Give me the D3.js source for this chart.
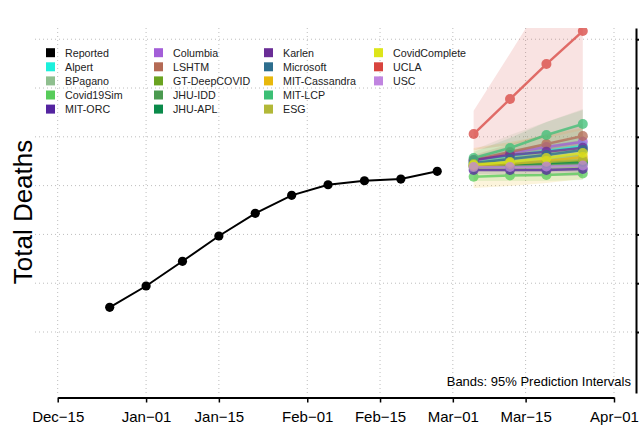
<!DOCTYPE html>
<html>
<head>
<meta charset="utf-8">
<script src="https://cdn.jsdelivr.net/npm/d3@7"></script>
<style>
  body { margin: 0; background: #fff; }
  text { font-family: "Liberation Sans", Arial, Helvetica, sans-serif; }
</style>
</head>
<body>
<div id="chart"></div>
<script>
// reported weekly totals
const reportedDates = ["2020-12-25", "2021-01-01", "2021-01-08", "2021-01-15", "2021-01-22",
                       "2021-01-29", "2021-02-05", "2021-02-12", "2021-02-19", "2021-02-26"];
const reportedDeaths = [5506, 5943, 6449, 6967, 7432, 7801, 8018, 8100, 8135, 8293];

const forecastDates = ["2021-03-05", "2021-03-12", "2021-03-19", "2021-03-26"];

const models = ["Alpert", "BPagano", "Covid19Sim", "MIT-ORC", "Columbia", "LSHTM", "GT-DeepCOVID",
                "JHU-IDD", "JHU-APL", "Karlen", "Microsoft", "MIT-Cassandra", "MIT-LCP", "ESG",
                "CovidComplete", "UCLA", "USC"];
const modelColors = ["#1cf0dc", "#8fbf8f", "#57cc5a", "#5424a0", "#a35ed8", "#b46a55", "#6aa320",
                     "#4b9a50", "#0a8a4a", "#6a2d96", "#2d6e8e", "#e8b80c", "#3cbf75", "#b2b838",
                     "#dde51a", "#d8443e", "#c084e0"];

// point forecasts (median), one row per model
const modelMedian = [
  [8483, 8606, 8709, 8811],
  [8483, 8565, 8647, 8729],
  [8182, 8207, 8217, 8248],
  [8319, 8319, 8319, 8340],
  [8504, 8668, 8791, 8899],
  [8524, 8688, 8852, 9016],
  [8401, 8422, 8463, 8504],
  [8381, 8401, 8422, 8442],
  [8422, 8442, 8463, 8483],
  [8524, 8627, 8694, 8776],
  [8463, 8545, 8627, 8729],
  [8401, 8442, 8504, 8586],
  [8565, 8770, 9037, 9262],
  [8442, 8463, 8483, 8524],
  [8422, 8483, 8565, 8668],
  [9057, 9774, 10491, 11167],
  [8381, 8381, 8391, 8412]
];
// 95% prediction interval, lower
const modelLower = [
  [8401, 8483, 8545, 8606],
  [8278, 8278, 8278, 8278],
  [8094, 8094, 8094, 8114],
  [8237, 8217, 8196, 8196],
  [8401, 8524, 8627, 8729],
  [8422, 8524, 8647, 8770],
  [8319, 8319, 8340, 8360],
  [8299, 8299, 8299, 8299],
  [8340, 8340, 8340, 8340],
  [8463, 8524, 8565, 8627],
  [8401, 8442, 8483, 8565],
  [7951, 7992, 8053, 8135],
  [8442, 8565, 8729, 8893],
  [8381, 8381, 8401, 8401],
  [8340, 8360, 8401, 8463],
  [8729, 8832, 8975, 9139],
  [8319, 8299, 8278, 8278]
];
// 95% prediction interval, upper
const modelUpper = [
  [8565, 8729, 8873, 9016],
  [8729, 9037, 9303, 9569],
  [8278, 8319, 8360, 8401],
  [8401, 8422, 8442, 8463],
  [8606, 8811, 8975, 9139],
  [8627, 8852, 9057, 9262],
  [8483, 8524, 8586, 8647],
  [8463, 8504, 8545, 8586],
  [8504, 8545, 8586, 8627],
  [8586, 8729, 8832, 8934],
  [8524, 8647, 8770, 8893],
  [8770, 8893, 9037, 9180],
  [8688, 8975, 9303, 9549],
  [8504, 8545, 8606, 8668],
  [8504, 8606, 8729, 8852],
  [9534, 10706, 11905, 13032],
  [8442, 8463, 8504, 8545]
];

const yTicks = [5000, 6000, 7000, 8000, 9000, 10000, 11000];
const xTicks = ["2020-12-15", "2021-01-01", "2021-01-15", "2021-02-01", "2021-02-15",
                "2021-03-01", "2021-03-15", "2021-04-01"];

const width = 639, height = 429;
const plot = { left: 35, right: 636, top: 28, bottom: 393 };

const parse = d3.utcParse("%Y-%m-%d");
const fmt = d => d3.utcFormat("%b")(d) + "\u2212" + d3.utcFormat("%d")(d);

const svg = d3.select("#chart").append("svg")
    .attr("width", width)
    .attr("height", height);

const x = d3.scaleUtc()
    .domain([parse("2020-12-15"), parse("2021-04-01")])
    .range([57.7, 614]);

const y = d3.scaleLinear()
    .domain([3750, 11230])
    .range([plot.bottom, plot.top]);

svg.append("clipPath").attr("id", "clip")
  .append("rect")
    .attr("x", plot.left).attr("y", plot.top)
    .attr("width", plot.right - plot.left).attr("height", plot.bottom - plot.top);

// grid
const grid = svg.append("g").attr("stroke", "#bdbdbd").attr("stroke-dasharray", "1,3");
grid.selectAll("line.h").data(yTicks).enter().append("line")
    .attr("x1", plot.left).attr("x2", plot.right)
    .attr("y1", d => y(d)).attr("y2", d => y(d));
grid.selectAll("line.v").data(xTicks).enter().append("line")
    .attr("x1", d => x(parse(d))).attr("x2", d => x(parse(d)))
    .attr("y1", plot.top).attr("y2", plot.bottom);

// legend
const legendItems = [{ name: "Reported", color: "#000" }]
    .concat(models.map((m, i) => ({ name: m, color: modelColors[i] })));
const colX = [46, 154, 264, 374];
const legend = svg.append("g");
legendItems.forEach((d, i) => {
  const col = Math.floor(i / 5), row = i % 5;
  const cy = 52.7 + row * 14.1;
  legend.append("rect")
      .attr("x", colX[col]).attr("y", cy - 4.5)
      .attr("width", 9).attr("height", 9)
      .attr("fill", d.color);
  legend.append("text")
      .attr("x", colX[col] + 19).attr("y", cy + 4)
      .attr("font-size", 10.7)
      .attr("fill", "#222")
      .text(d.name);
});

// forecasts
const fDates = forecastDates.map(parse);
const fc = svg.append("g").attr("clip-path", "url(#clip)");

const area = d3.area()
    .x((d, i) => x(fDates[i]))
    .y0(d => y(d[0]))
    .y1(d => y(d[1]));
models.forEach((m, k) => {
  const band = modelLower[k].map((lo, i) => [lo, modelUpper[k][i]]);
  fc.append("path")
      .attr("d", area(band))
      .attr("fill", modelColors[k])
      .attr("fill-opacity", 0.15);
});

const line = d3.line()
    .x((d, i) => x(fDates[i]))
    .y(d => y(d));
models.forEach((m, k) => {
  const g = fc.append("g").attr("opacity", 0.75);
  g.append("path")
      .attr("d", line(modelMedian[k]))
      .attr("fill", "none")
      .attr("stroke", modelColors[k])
      .attr("stroke-width", 2.5);
  g.selectAll("circle").data(modelMedian[k]).enter().append("circle")
      .attr("cx", (d, i) => x(fDates[i]))
      .attr("cy", d => y(d))
      .attr("r", 5)
      .attr("fill", modelColors[k]);
});

// reported
const rDates = reportedDates.map(parse);
svg.append("path")
    .attr("d", d3.line().x((d, i) => x(rDates[i])).y(d => y(d))(reportedDeaths))
    .attr("fill", "none")
    .attr("stroke", "#000")
    .attr("stroke-width", 2);
svg.selectAll("circle.rep").data(reportedDeaths).enter().append("circle")
    .attr("class", "rep")
    .attr("cx", (d, i) => x(rDates[i]))
    .attr("cy", d => y(d))
    .attr("r", 4.6)
    .attr("fill", "#000");

// x axis
const xAxis = svg.append("g")
    .attr("transform", "translate(0,397.5)")
    .call(d3.axisBottom(x).tickValues(xTicks.map(parse)).tickFormat(fmt).tickSize(5).tickSizeOuter(0));
xAxis.select(".domain").attr("stroke-width", 2);
xAxis.selectAll(".tick line").attr("stroke-width", 1.5);
xAxis.selectAll(".tick text")
    .attr("font-size", 15)
    .attr("font-family", "'Liberation Sans', Arial, sans-serif")
    .attr("dy", "0")
    .attr("y", 24.5);

// right axis (labels fall outside the frame)
const yAxis = svg.append("g")
    .attr("transform", `translate(${plot.right},0)`)
    .call(d3.axisRight(y).tickValues(yTicks).tickFormat(() => "").tickSize(3).tickSizeOuter(0));
yAxis.select(".domain").attr("stroke-width", 2);
yAxis.selectAll(".tick line").attr("stroke-width", 2);

// titles
svg.append("text")
    .attr("transform", "translate(32,212) rotate(-90)")
    .attr("text-anchor", "middle")
    .attr("font-size", 26)
    .text("Total Deaths");

svg.append("text")
    .attr("x", 631).attr("y", 386)
    .attr("text-anchor", "end")
    .attr("font-size", 13)
    .text("Bands: 95% Prediction Intervals");
</script>
</body>
</html>
